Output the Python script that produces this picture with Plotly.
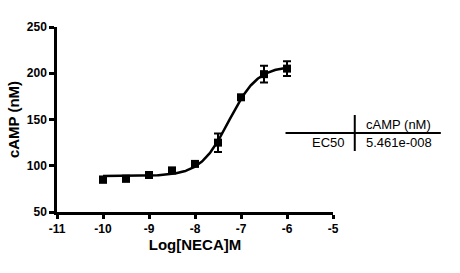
import numpy as np
import plotly.graph_objects as go

log_conc = [-10, -9.5, -9, -8.5, -8, -7.5, -7, -6.5, -6]
camp = [85, 86, 90, 95, 102, 125, 174, 199, 205]
camp_err = [3, 3, 2, 2, 2, 10, 2, 9, 8]

# fitted four-parameter logistic parameters (from the reference fit)
fit_bottom = 89
fit_top = 208
fit_logec50 = np.log10(5.461e-8)
fit_hill = 1.4

x_ticks = [-11, -10, -9, -8, -7, -6, -5]
y_ticks = [50, 100, 150, 200, 250]

xc = np.linspace(-10, -6, 200)
yc = fit_bottom + (fit_top - fit_bottom) / (1 + 10 ** ((fit_logec50 - xc) * fit_hill))

fig = go.Figure()
fig.add_trace(go.Scatter(x=xc, y=yc, mode="lines", line=dict(color="black", width=2.5),
                         showlegend=False, hoverinfo="skip"))
fig.add_trace(go.Scatter(x=log_conc, y=camp, mode="markers",
                         marker=dict(symbol="square", size=8, color="black"),
                         error_y=dict(type="data", array=camp_err, color="black", thickness=2, width=4),
                         showlegend=False))

fig.update_layout(
    width=460, height=273,
    margin=dict(l=54, r=127, t=27, b=61),
    plot_bgcolor="white", paper_bgcolor="white",
    xaxis=dict(range=[-11, -5], tickvals=x_ticks, ticktext=[str(v) for v in x_ticks],
               showgrid=False, zeroline=False, showline=True, linecolor="black", linewidth=2.5,
               ticks="outside", ticklen=4, tickwidth=2.5, tickcolor="black",
               tickfont=dict(family="Liberation Sans, Arial", size=12, color="black", weight="bold"),
               title=dict(text="<b>Log[NECA]M</b>", font=dict(family="Liberation Sans, Arial", size=15, color="black"), standoff=2)),
    yaxis=dict(range=[50, 250], tickvals=y_ticks, ticktext=[str(v) for v in y_ticks],
               showgrid=False, zeroline=False, showline=True, linecolor="black", linewidth=2.5,
               ticks="outside", ticklen=5, tickwidth=2.5, tickcolor="black",
               tickfont=dict(family="Liberation Sans, Arial", size=12, color="black", weight="bold"),
               title=dict(text="<b>cAMP (nM)</b>", font=dict(family="Liberation Sans, Arial", size=15, color="black"), standoff=4)),
)

# results table
table_font = dict(family="Liberation Sans, Arial", size=13, color="black")
fig.add_shape(type="line", xref="paper", yref="paper", x0=(285-54)/279, x1=(442-54)/279,
              y0=(212-133)/185, y1=(212-133)/185, line=dict(color="black", width=2))
fig.add_shape(type="line", xref="paper", yref="paper", x0=(355-54)/279, x1=(355-54)/279,
              y0=(212-115)/185, y1=(212-151)/185, line=dict(color="black", width=2))
fig.add_annotation(xref="paper", yref="paper", x=(399-54)/279, y=(212-124)/185, text="cAMP (nM)",
                   showarrow=False, font=table_font, xanchor="center", yanchor="middle")
fig.add_annotation(xref="paper", yref="paper", x=(347-54)/279, y=(212-142)/185, text="EC50",
                   showarrow=False, font=table_font, xanchor="right", yanchor="middle")
fig.add_annotation(xref="paper", yref="paper", x=(364-54)/279, y=(212-142)/185, text="5.461e-008",
                   showarrow=False, font=table_font, xanchor="left", yanchor="middle")

fig.write_html("out.html")
